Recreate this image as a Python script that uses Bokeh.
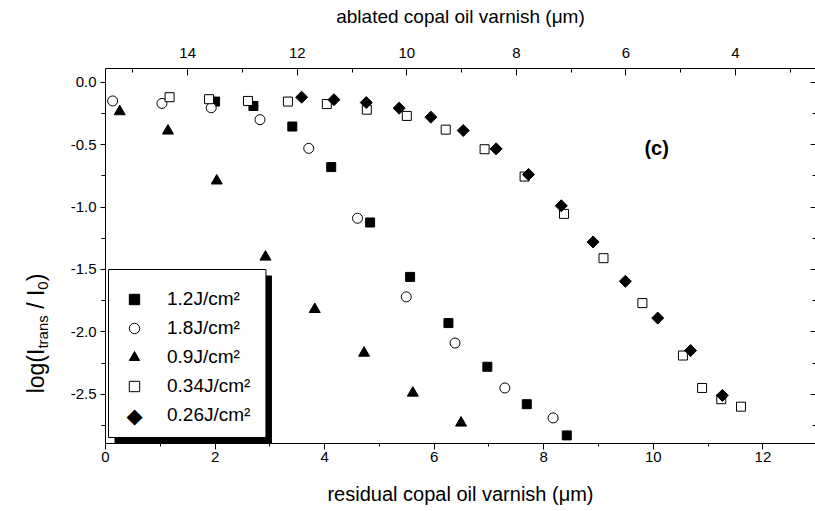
import glob
from math import pi
from bokeh.plotting import figure
from bokeh.layouts import row
from bokeh.core.properties import value
from bokeh.models import (Range1d, LinearAxis, FixedTicker, Legend, LegendItem, Label,
                          BoxAnnotation, CustomJSTickFormatter, PrintfTickFormatter)
from bokeh.embed import file_html
from bokeh.resources import INLINE

# ---------------- data ----------------
x_12 = [2.00, 2.70, 3.41, 4.12, 4.83, 5.56, 6.26, 6.97, 7.69, 8.42]
y_12 = [-0.155, -0.19, -0.355, -0.68, -1.124, -1.56, -1.93, -2.28, -2.58, -2.83]

x_18 = [0.13, 1.03, 1.93, 2.82, 3.71, 4.60, 5.49, 6.38, 7.29, 8.17]
y_18 = [-0.15, -0.17, -0.205, -0.30, -0.53, -1.09, -1.72, -2.09, -2.45, -2.69]

x_09 = [0.26, 1.14, 2.03, 2.92, 3.82, 4.72, 5.61, 6.49]
y_09 = [-0.235, -0.39, -0.79, -1.40, -1.82, -2.17, -2.49, -2.73]

x_034 = [1.17, 1.89, 2.60, 3.33, 4.04, 4.77, 5.50, 6.21, 6.92, 7.65, 8.37, 9.09, 9.80,
         10.54, 10.89, 11.24, 11.60]
y_034 = [-0.12, -0.136, -0.15, -0.155, -0.175, -0.22, -0.27, -0.38, -0.537, -0.756,
         -1.055, -1.41, -1.77, -2.19, -2.45, -2.54, -2.60]

x_026 = [3.58, 4.17, 4.76, 5.36, 5.94, 6.53, 7.13, 7.72, 8.32, 8.90, 9.49, 10.08, 10.68, 11.26]
y_026 = [-0.12, -0.14, -0.163, -0.208, -0.28, -0.387, -0.534, -0.74, -0.99, -1.28,
         -1.595, -1.89, -2.15, -2.51]

series_labels = ["1.2J/cm\u00b2", "1.8J/cm\u00b2", "0.9J/cm\u00b2", "0.34J/cm\u00b2", "0.26J/cm\u00b2"]

x_major = [0, 2, 4, 6, 8, 10, 12]
x_minor = [1, 3, 5, 7, 9, 11]
top_major = [14, 12, 10, 8, 6, 4]
top_minor = [15, 13, 11, 9, 7, 5, 3]
y_major = [0.0, -0.5, -1.0, -1.5, -2.0, -2.5]
y_minor = [-0.25, -0.75, -1.25, -1.75, -2.25, -2.75]

ABLATED_TOTAL = 15.5  # ablated = 15.5 - residual

# ---------------- layout constants ----------------
FONT = "Liberation Sans"
H = 510
LEFT_W = 60
X_END = 12.96
Y_START, Y_END = -2.895, 0.11
TICK_FS = "15px"
TITLE_FS = "20px"

W = {"l": .222, "o": .556, "g": .556, "(": .333, "I": .278, "t": .278, "r": .333, "a": .556,
     "n": .556, "s": .5, " ": .278, "/": .278, "0": .556, ")": .333, "1": .556, "2": .556,
     "3": .556, "4": .556, "6": .556, "8": .556, "9": .556, ".": .278, "J": .5, "c": .5,
     "m": .833, "\u00b2": .333}


def text_width(txt, fs):
    try:
        from PIL import ImageFont
        paths = glob.glob("/usr/share/fonts/**/LiberationSans-Regular.ttf", recursive=True)
        if paths:
            f = ImageFont.truetype(paths[0], size=fs * 10)
            return f.getlength(txt) / 10.0
    except Exception:
        pass
    return sum(W.get(c, .556) for c in txt) * fs


# ---------------- main figure ----------------
p = figure(width=815 - LEFT_W, height=H, output_backend="svg", toolbar_location=None,
           title=None, x_range=Range1d(0, X_END), y_range=Range1d(Y_START, Y_END),
           min_border_left=105 - LEFT_W, min_border_right=0, min_border_top=68,
           min_border_bottom=H - 443)
p.extra_x_ranges = {"abl": Range1d(ABLATED_TOTAL, ABLATED_TOTAL - X_END)}
p.grid.visible = False
p.outline_line_color = None
p.background_fill_color = "white"
p.border_fill_color = "white"


def style_axis(ax):
    ax.axis_line_color = "black"
    ax.axis_line_width = 1
    ax.major_tick_line_color = "black"
    ax.minor_tick_line_color = "black"
    ax.major_label_text_font = FONT
    ax.major_label_text_font_size = TICK_FS
    ax.major_label_text_color = "black"
    ax.axis_label_text_font = FONT
    ax.axis_label_text_font_size = TITLE_FS
    ax.axis_label_text_font_style = "normal"
    ax.axis_label_text_color = "black"


xa = p.xaxis[0]
style_axis(xa)
xa.ticker = FixedTicker(ticks=x_major, minor_ticks=x_minor)
xa.major_tick_out = 6
xa.major_tick_in = 0
xa.minor_tick_out = 3
xa.minor_tick_in = 0
xa.major_label_standoff = 2
xa.axis_label = "residual copal oil varnish (\u03bcm)"
xa.axis_label_standoff = 18

ya = p.yaxis[0]
style_axis(ya)
ya.ticker = FixedTicker(ticks=y_major, minor_ticks=y_minor)
ya.formatter = PrintfTickFormatter(format="%.1f")
ya.major_tick_out = 5
ya.major_tick_in = 0
ya.minor_tick_out = 4
ya.minor_tick_in = 0
ya.major_label_standoff = 4

ta = LinearAxis(x_range_name="abl", ticker=FixedTicker(ticks=top_major, minor_ticks=top_minor),
                axis_label="ablated copal oil varnish (\u03bcm)")
style_axis(ta)
ta.axis_label_text_font_size = "19px"
ta.major_tick_in = 7
ta.major_tick_out = 0
ta.minor_tick_in = 4
ta.minor_tick_out = 0
ta.major_label_standoff = 11
ta.axis_label_standoff = 18
p.add_layout(ta, "above")

ra = LinearAxis(ticker=FixedTicker(ticks=y_major, minor_ticks=y_minor),
                formatter=CustomJSTickFormatter(code="return ''"))
style_axis(ra)
ra.axis_line_color = None
ra.major_tick_in = 5
ra.major_tick_out = 0
ra.minor_tick_in = 3
ra.minor_tick_out = 0
ra.major_label_standoff = 0
p.add_layout(ra, "right")

# ---------------- data marks ----------------
r12 = p.scatter(x_12, y_12, marker="square", size=9, fill_color="black", line_color="black")
r18 = p.scatter(x_18, y_18, marker="circle", size=10, fill_color="white", line_color="black",
                line_width=1)
r09 = p.scatter(x_09, y_09, marker="triangle", size=11, fill_color="black", line_color="black")
r034 = p.scatter(x_034, y_034, marker="square", size=9, fill_color="white", line_color="black",
                 line_width=1)
r026 = p.scatter(x_026, y_026, marker="square", angle=pi / 4, size=8.5, fill_color="black",
                 line_color="black")

# ---------------- legend with shadow ----------------
PX_X = 54.77   # px per x unit
PX_Y = 124.8   # px per y unit


def dx(page_x):
    return (page_x - 105) / PX_X


def dy(page_y):
    return -(page_y - 81.7) / PX_Y


LG_LEFT, LG_BOTTOM = 108, 437
PAD_X, PAD_TOP, PAD_BOTTOM = 13, 17, 9
GLYPH, SPACING, STANDOFF = 26, 3, 20
LEG_FS = 19
lg_h = PAD_TOP + 5 * GLYPH + 4 * SPACING + PAD_BOTTOM
lg_top = LG_BOTTOM - lg_h
lg_w = 2 * PAD_X + GLYPH + STANDOFF + max(text_width(s, LEG_FS) for s in series_labels) + 2
lg_right = LG_LEFT + lg_w

shadow = BoxAnnotation(left=dx(LG_LEFT + 6), right=dx(lg_right + 6), top=dy(lg_top + 6),
                       bottom=Y_START, fill_color="black", fill_alpha=1.0, line_color=None)
p.add_layout(shadow)
box = BoxAnnotation(left=dx(LG_LEFT), right=dx(lg_right), top=dy(lg_top), bottom=dy(LG_BOTTOM),
                    fill_color="white", fill_alpha=1.0, line_color="black", line_width=1,
                    line_alpha=1.0)
p.add_layout(box)

# rotated-square legend symbol (bokeh legends ignore marker angle)
p.add_layout(Label(x=dx(LG_LEFT + PAD_X + GLYPH / 2),
                   y=dy(lg_top + PAD_TOP + 4 * (GLYPH + SPACING) + GLYPH / 2),
                   text="\u25c6", text_font="DejaVu Sans", text_font_size="21px",
                   text_align="center", text_baseline="middle", text_color="black"))

r026_leg = p.scatter(x_026, y_026, marker="square", size=8.5, fill_alpha=0, line_alpha=0)

legend = Legend(items=[LegendItem(label=lab, renderers=[r]) for lab, r in
                       zip(series_labels, [r12, r18, r09, r034, r026_leg])],
                location=(LG_LEFT - 105 + PAD_X, 443 - LG_BOTTOM + PAD_BOTTOM),
                border_line_color=None, background_fill_alpha=0.0,
                padding=0, spacing=SPACING, label_standoff=STANDOFF, glyph_width=GLYPH,
                glyph_height=GLYPH, label_height=GLYPH, label_text_font=FONT,
                label_text_font_size=f"{LEG_FS}px", label_text_color="black", margin=0)
p.add_layout(legend)

# ---------------- texts ----------------
p.add_layout(Label(x=10.06, y=-0.53, text="(c)", text_font=FONT, text_font_size="20px",
                   text_font_style="bold", text_align="center", text_baseline="middle",
                   text_color="black"))

# ---------------- y-axis title (separate narrow figure, real text) ----------------
t = figure(frame_width=LEFT_W, frame_height=H, output_backend="svg", toolbar_location=None,
           title=None, x_range=Range1d(0, LEFT_W), y_range=Range1d(0, H), x_axis_type=None,
           y_axis_type=None, min_border=0)
t.grid.visible = False
t.outline_line_color = None
t.background_fill_color = "white"
t.border_fill_color = "white"

MAIN_FS, SUB_FS = 23, 15
# (text, font px, shift toward axis, advance-only gap before)
pieces = [("log(I", MAIN_FS, 0, 0), ("trans", SUB_FS, 7, 0),
          ("/ I", MAIN_FS, 0, text_width(" ", MAIN_FS)), ("0", SUB_FS, 7, 0),
          (")", MAIN_FS, 0, 0)]
widths = [gap + text_width(txt, fs) for txt, fs, _, gap in pieces]
total = sum(widths)
center_py = 265.0
base_px = 35.0
cur = H - (center_py + total / 2)   # data y (up) where the title starts
for (txt, fs, shift, gap), w in zip(pieces, widths):
    tw = w - gap
    t.text(x=[base_px + shift], y=[cur + gap + tw / 2], text=[txt], angle=pi / 2,
           text_font=value(FONT), text_font_size=value(f"{fs}px"), text_align="center",
           text_baseline="alphabetic", text_color="black")
    cur += w

layout = row(t, p)
open("out.html", "w").write(file_html(layout, INLINE))
